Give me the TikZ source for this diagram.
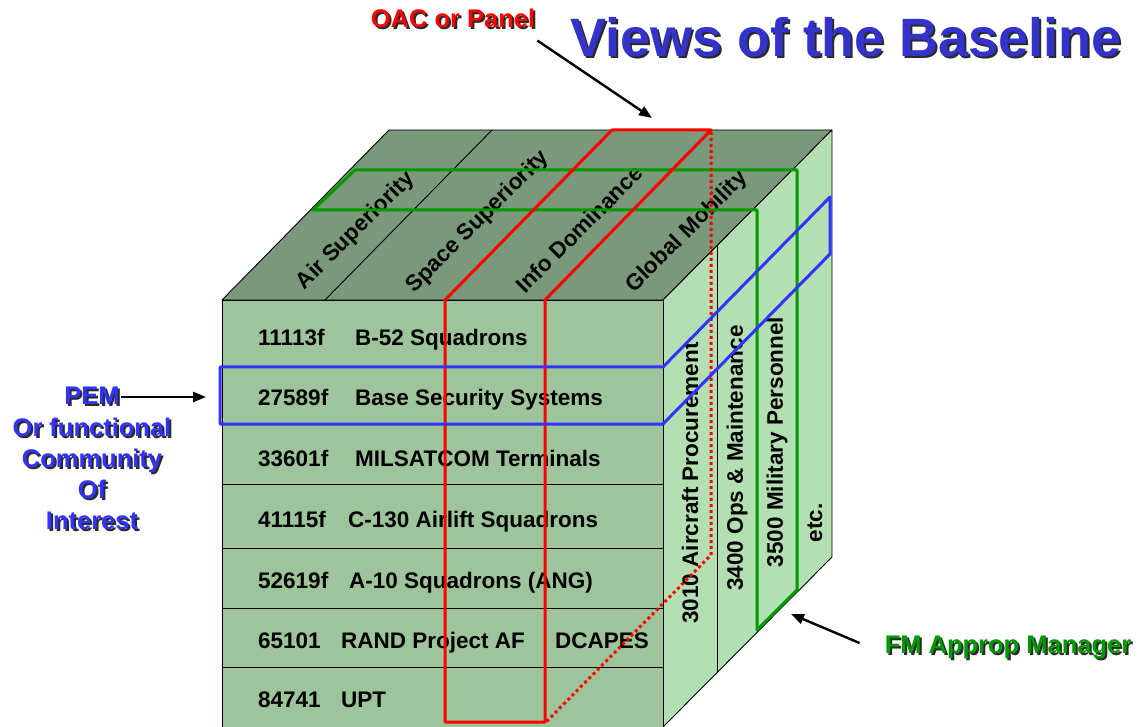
\documentclass[tikz,border=0pt]{standalone}
\usepackage{fontspec}
\setmainfont{Liberation Sans}
\usepackage{xcolor}
\usepackage{tikz}
\usetikzlibrary{arrows.meta,positioning,calc}
\definecolor{cTop}{HTML}{7A997A}
\definecolor{cFront}{HTML}{9DC49B}
\definecolor{cSide}{HTML}{B3DFB3}
\definecolor{cOac}{HTML}{FF0000}
\definecolor{cPem}{HTML}{3333FF}
\definecolor{cFm}{HTML}{009900}
\definecolor{cTitle}{HTML}{3333CC}
\definecolor{cShade}{HTML}{2A2A2A}
\newcommand{\shadowtxt}[2]{\makebox[0pt][l]{\hspace{2pt}\raisebox{-2pt}{\textcolor{cShade}{#2}}}\textcolor{#1}{#2}}
\tikzset{
  face/.style={fill=#1, draw=black, line width=0.9pt, line join=round},
  grid/.style={draw=black, line width=0.9pt},
  cell/.style={font=\fontsize{22.5}{26}\selectfont\bfseries, inner sep=0pt, anchor=base west},
  axis/.style={font=\fontsize{22.5}{26}\selectfont\bfseries, inner sep=0pt},
  slice/.style={draw=#1, line width=3pt, line join=round},
  behind/.style={draw=cOac, line width=3pt, dash pattern=on 3pt off 3pt},
  pointer/.style={-{Triangle[length=13pt,width=10pt]}, line width=2.4pt},
  callout/.style={font=\fontsize{25.5}{31}\selectfont\bfseries, align=center, inner sep=1pt},
}
\begin{document}
\begin{tikzpicture}[x=1pt,y=-1pt]
  \useasboundingbox (0,0) rectangle (1141,727);
  % the cube
  \draw[face=cTop] (222,300) -- (389,130) -- (832,130) -- (663,300) -- cycle;
  \draw[face=cSide] (663,300) -- (832,130) -- (832,557) -- (663,727) -- cycle;
  \draw[face=cFront] (222,300) rectangle (663,727);
  \foreach \ly in {367,424,484,548,608,667}
    \draw[grid] (222,\ly) -- (663,\ly);
  \foreach \fx/\bx in {325/492,445/612,545/712}
    \draw[grid] (\fx,300) -- (\bx,130);
  \draw[grid] (717,245) -- (717,673);

  % column and appropriation labels
  \node[axis, rotate=45] (air) at (356,231) {Air Superiority};
  \node[axis, rotate=45] (space) at (478,222) {Space Superiority};
  \node[axis, rotate=45] (info) at (579,229) {Info Dominance};
  \node[axis, rotate=45] (glob) at (687,232) {Global Mobility};
  \node[axis, rotate=90] (ap3010) at (690,483) {3010 Aircraft Procurement};
  \node[axis, rotate=90] (ap3400) at (737,458) {3400 Ops \& Maintenance};
  \node[axis, rotate=90] (ap3500) at (777,442) {3500 Military Personnel};
  \node[axis, rotate=90] (apetc) at (815,523) {etc.};

  % program elements
  \foreach \ry/\num/\nx/\name [count=\i] in {345/11113f/355/B-52 Squadrons,
      406/27589f/355/Base Security Systems, 466/33601f/355/MILSATCOM Terminals,
      527/41115f/348/C-130 Airlift Squadrons, 588/52619f/349/A-10 Squadrons (ANG),
      648/65101/341/RAND Project AF, 707/84741/341/UPT} {
    \node[cell] (num\i) at (258,\ry) {\num};
    \node[cell] (pe\i) at (\nx,\ry) {\name};
  }
  \node[cell] (dcapes) at (555,648) {DCAPES};

  % views
  \draw[slice=cFm] (313,210) -- (355,170) -- (797,170) -- (797,590) -- (757,630) -- (757,210) -- cycle;
  \draw[behind] (711,132) -- (711,555) -- (546,722);
  \draw[slice=cOac] (445,722) -- (445,300) -- (612,130) -- (711,130) -- (545,300) -- (545,722) -- cycle;
  \draw[slice=cPem] (220,367) -- (663,367) -- (830,197) -- (830,254) -- (663,424) -- (220,424) -- cycle;

  % callouts
  \node[font=\fontsize{54}{60}\selectfont\bfseries, inner sep=0pt] (title) at (846,38)
    {\shadowtxt{cTitle}{Views of the Baseline}};
  \node[callout] (oac) at (453,19) {\shadowtxt{cOac}{OAC or Panel}};
  \node[callout] (pem) at (92,397) {\shadowtxt{cPem}{PEM}};
  \node[callout] (coi) at (92,475) {\shadowtxt{cPem}{Or functional}\\\shadowtxt{cPem}{Community}\\
    \shadowtxt{cPem}{Of}\\\shadowtxt{cPem}{Interest}};
  \node[callout] (fm) at (1008,648) {\shadowtxt{cFm}{FM Approp Manager}};
  \coordinate (oacTip) at (652,118);
  \coordinate (pemTip) at (206,397);
  \coordinate (fmTip) at (791,614);
  \draw[pointer] ([xshift=1pt,yshift=-10pt]oac.south east) -- (oacTip);
  \draw[pointer] (pem.east) -- (pemTip);
  \draw[pointer] ([xshift=-24pt,yshift=5pt]fm.west) -- (fmTip);
\end{tikzpicture}
\end{document}
